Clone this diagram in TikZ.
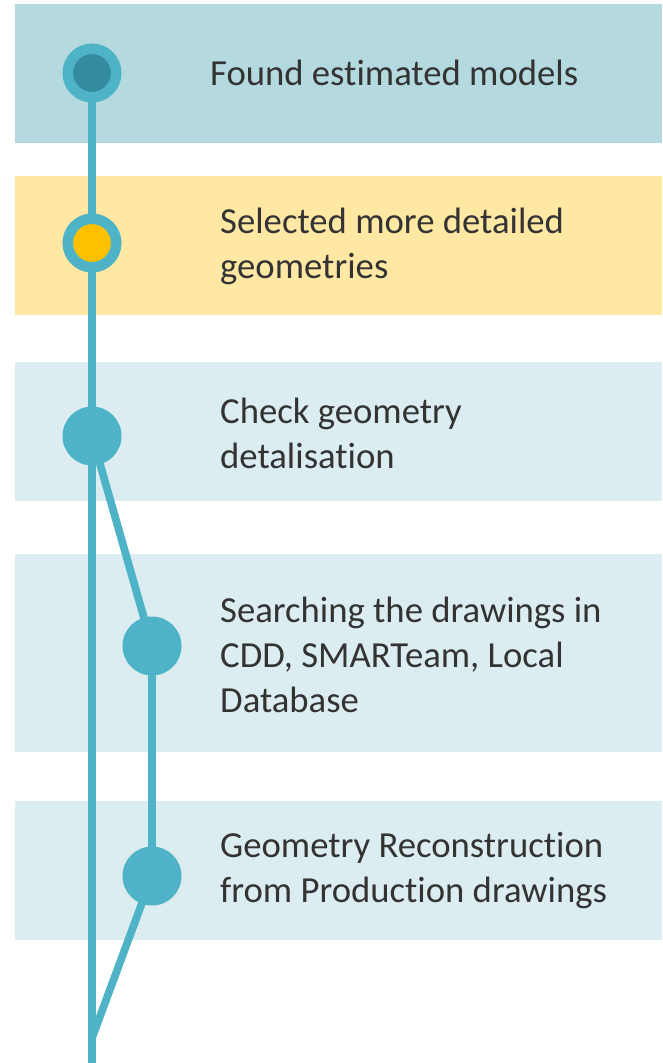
\documentclass[tikz,border=0pt]{standalone}
\usepackage{fontspec}
\setmainfont[Ligatures=NoCommon]{Carlito}
\usepackage{xcolor}
\definecolor{linecol}{RGB}{79,179,200}
\definecolor{darkcol}{RGB}{53,140,158}
\definecolor{goldcol}{RGB}{255,192,0}
\definecolor{topband}{RGB}{180,217,222}
\definecolor{yelband}{RGB}{255,232,163}
\definecolor{lightband}{RGB}{219,237,241}
\pgfdeclarelayer{back}
\pgfdeclarelayer{mid}
\pgfsetlayers{back,mid,main}

\begin{document}
\begin{tikzpicture}[x=1pt,y=-1pt,
  ring/.style={circle,draw=linecol,line width=10.5pt,minimum size=48.5pt,inner sep=0pt},
  dot/.style={circle,fill=linecol,minimum size=59pt,inner sep=0pt},
  label/.style={anchor=west,align=left,font=\fontsize{36.7}{45}\selectfont,text=black!80,inner sep=0pt},
  link/.style={linecol,line width=7.7pt}]
\useasboundingbox (0,0) rectangle (662,1063);
% bands
\begin{pgfonlayer}{back}
\fill[topband] (15,4) rectangle (662,142.7);
\fill[yelband] (15,176) rectangle (662,314.7);
\fill[lightband] (15,361.7) rectangle (662,501);
\fill[lightband] (15,554) rectangle (662,752);
\fill[lightband] (15,801) rectangle (662,940);
\end{pgfonlayer}
% steps
\node [ring,fill=darkcol] (found) at (92,73) {};
\node [ring,fill=goldcol] (selected) at (92,243) {};
\node [dot] (check) at (92,436) {};
\node [dot] (search) at (152,646) {};
\node [dot] (rebuild) at (152,876) {};
\coordinate (join) at (92,1038);
\coordinate (bottom) at (92,1063);
% texts
\node [label] (tfound) at (210,73) {Found estimated models};
\node [label] (tselected) at (220,246) {Selected more detailed\\geometries};
\node [label] (tcheck) at (220,433) {Check geometry\\detalisation};
\node [label] (tsearch) at (220,655) {Searching the drawings in\\CDD, SMARTeam, Local\\Database};
\node [label] (trebuild) at (220,871) {Geometry Reconstruction\\from Production drawings};
% connectors
\begin{pgfonlayer}{mid}
\draw [link] (found.center) -- (bottom);
\draw [link] (check.center) -- (search.center) -- (rebuild.center) -- (join);
\end{pgfonlayer}
\end{tikzpicture}
\end{document}
